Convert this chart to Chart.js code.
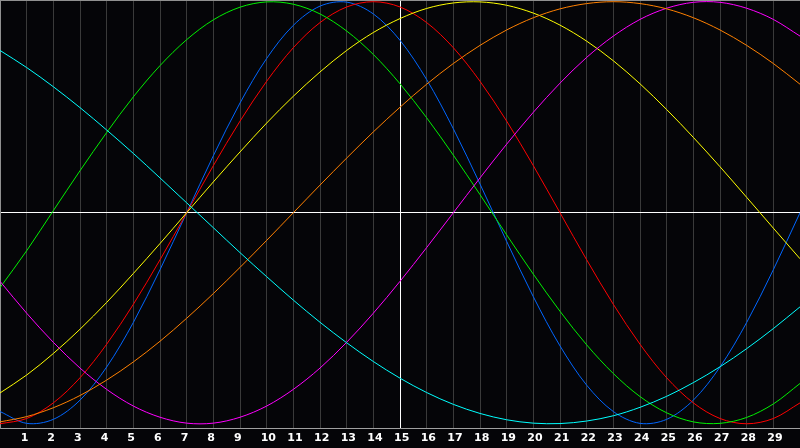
<!DOCTYPE html>
<html>
<head>
<meta charset="utf-8">
<script src="https://cdn.jsdelivr.net/npm/chart.js@4"></script>
<style>
  html, body { margin: 0; padding: 0; background: #050508; }
  canvas { display: block; background: #050508; }
</style>
</head>
<body>
<canvas id="grafico" width="800" height="448"></canvas>
<script>
// days 0..30
var days = [0,1,2,3,4,5,6,7,8,9,10,11,12,13,14,15,16,17,18,19,20,21,22,23,24,25,26,27,28,29,30];

var blue    = [-0.942,-0.998,-0.979,-0.888,-0.731,-0.520,-0.270,0.000,0.270,0.520,0.731,0.888,0.979,0.998,0.942,0.817,0.631,0.398,0.136,-0.136,-0.398,-0.631,-0.817,-0.942,-0.998,-0.979,-0.888,-0.731,-0.520,-0.270,0.000];
var red     = [-1.000,-0.975,-0.901,-0.782,-0.623,-0.434,-0.223,0.000,0.223,0.434,0.623,0.782,0.901,0.975,1.000,0.975,0.901,0.782,0.623,0.434,0.223,0.000,-0.223,-0.434,-0.623,-0.782,-0.901,-0.975,-1.000,-0.975,-0.901];
var green   = [-0.355,-0.180,0.010,0.199,0.380,0.549,0.697,0.820,0.914,0.974,0.999,0.988,0.942,0.861,0.750,0.611,0.450,0.273,0.086,-0.105,-0.291,-0.467,-0.626,-0.762,-0.871,-0.948,-0.991,-0.998,-0.970,-0.906,-0.809];
var yellow  = [-0.854,-0.769,-0.667,-0.552,-0.425,-0.288,-0.146,0.000,0.146,0.288,0.425,0.552,0.667,0.769,0.854,0.920,0.968,0.994,0.999,0.983,0.946,0.889,0.813,0.720,0.611,0.489,0.357,0.218,0.073,-0.073,-0.218];
var orange  = [-0.991,-0.966,-0.924,-0.866,-0.793,-0.707,-0.609,-0.500,-0.383,-0.259,-0.131,0.000,0.131,0.259,0.383,0.500,0.609,0.707,0.793,0.866,0.924,0.966,0.991,1.000,0.991,0.966,0.924,0.866,0.793,0.707,0.609];
var magenta = [-0.325,-0.476,-0.614,-0.736,-0.837,-0.916,-0.969,-0.997,-0.997,-0.969,-0.916,-0.837,-0.736,-0.614,-0.476,-0.325,-0.165,0.000,0.165,0.325,0.476,0.614,0.736,0.837,0.916,0.969,0.997,0.997,0.969,0.916,0.837];
var cyan    = [0.769,0.688,0.597,0.498,0.392,0.281,0.165,0.047,-0.071,-0.189,-0.303,-0.414,-0.519,-0.616,-0.705,-0.784,-0.852,-0.908,-0.951,-0.981,-0.997,-0.999,-0.987,-0.962,-0.922,-0.870,-0.805,-0.730,-0.644,-0.549,-0.446];

var dayLabels = ['','1','2','3','4','5','6','7','8','9','10','11','12','13','14','15','16','17','18','19','20','21','22','23','24','25','26','27','28','29',''];

function serie(valori, colore){
  return {
    data: days.map(function(d, i){ return {x: d, y: valori[i]}; }),
    borderColor: colore,
    borderWidth: 1,
    pointRadius: 0,
    tension: 0.33,
    fill: false
  };
}

var ctx = document.getElementById('grafico');
var chart = new Chart(ctx, {
  type: 'line',
  data: {
    datasets: [
      serie(cyan, '#00ffff'),
      serie(orange, '#ff8000'),
      serie(magenta, '#ff00ff'),
      serie(yellow, '#ffff00'),
      serie(green, '#00f000'),
      serie(red, '#ff0000'),
      serie(blue, '#0066ff')
    ]
  },
  options: {
    responsive: false,
    animation: false,
    layout: { padding: 0 },
    plugins: { legend: { display: false }, tooltip: { enabled: false } },
    scales: {
      x: {
        type: 'linear',
        min: 0,
        max: 30,
        afterFit: function(s){
          s.height = 20;
          s.paddingLeft = 0;
          s.paddingRight = 0;
        },
        border: { color: '#a0a0a0' },
        grid: {
          drawTicks: false,
          color: function(c){
            if (c.tick.value === 15) return '#ffffff';
            if (c.tick.value === 0) return '#909090';
            return '#3a3a3a';
          }
        },
        ticks: {
          stepSize: 1,
          autoSkip: false,
          maxRotation: 0,
          align: 'start',
          labelOffset: -6,
          padding: 4,
          color: '#ffffff',
          font: { family: 'DejaVu Sans', weight: 'bold', size: 11 },
          callback: function(v){ return dayLabels[v]; }
        }
      },
      y: {
        min: -1.02,
        max: 1.008,
        afterFit: function(s){ s.width = 0; },
        afterBuildTicks: function(s){ s.ticks = [{value: -1.02}, {value: 0}, {value: 1.008}]; },
        border: { color: '#909090' },
        grid: {
          drawTicks: false,
          color: function(c){ return c.tick.value === 0 ? '#ffffff' : '#909090'; }
        },
        ticks: { display: false }
      }
    }
  }
});
</script>
</body>
</html>
